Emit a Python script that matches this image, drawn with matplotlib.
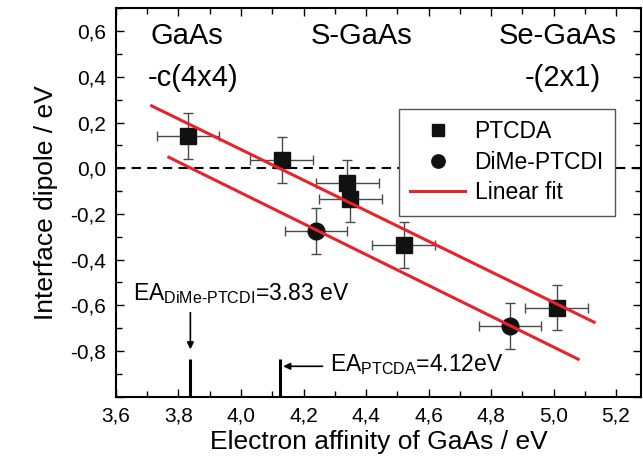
import numpy as np
import matplotlib
matplotlib.use('Agg')
import matplotlib.pyplot as plt
from matplotlib.ticker import MultipleLocator, FuncFormatter

# PTCDA points (electron affinity / interface dipole)
ptcda_x = [3.83, 4.13, 4.34, 4.35, 4.52, 5.01]
ptcda_y = [0.14, 0.035, -0.065, -0.135, -0.335, -0.61]
ptcda_xerr = [0.1, 0.1, 0.1, 0.1, 0.1, 0.1]
ptcda_yerr = [0.1, 0.1, 0.1, 0.1, 0.1, 0.1]

# DiMe-PTCDI points
dime_x = [4.24, 4.86]
dime_y = [-0.275, -0.69]
dime_xerr = [0.1, 0.1]
dime_yerr = [0.1, 0.1]

# linear fit end points
fit_ptcda_x = [3.714, 5.13]
fit_ptcda_y = [0.273, -0.674]
fit_dime_x = [3.769, 5.079]
fit_dime_y = [0.048, -0.836]

# EA markers of the molecules
ea_x = [3.838, 4.125]
ea_top = -0.835

plt.rcParams['font.family'] = ['Liberation Sans', 'DejaVu Sans']
plt.rcParams['mathtext.fontset'] = 'custom'
plt.rcParams['mathtext.rm'] = 'Liberation Sans'
plt.rcParams['mathtext.it'] = 'Liberation Sans:italic'
plt.rcParams['mathtext.bf'] = 'Liberation Sans:bold'

red = '#e8222b'
ebar_col = '#4a4a4a'

fig = plt.figure(figsize=(6.43, 4.71), dpi=100)
ax = fig.add_axes([0.1804, 0.1578, 0.8165, 0.8246])

ax.axhline(0, color='black', lw=1.5, ls=(0, (4.5, 3)), zorder=1)

ax.errorbar(ptcda_x, ptcda_y, xerr=ptcda_xerr, yerr=ptcda_yerr, fmt='none',
            ecolor=ebar_col, elinewidth=1, capsize=3.5, capthick=1, zorder=2)
ax.errorbar(dime_x, dime_y, xerr=dime_xerr, yerr=dime_yerr, fmt='none',
            ecolor=ebar_col, elinewidth=1, capsize=3.5, capthick=1, zorder=2)
ax.plot(ptcda_x, ptcda_y, 's', color='#111111', ms=11, ls='none', zorder=3, label='PTCDA')
ax.plot(dime_x, dime_y, 'o', color='#111111', ms=12, ls='none', zorder=3, label='DiMe-PTCDI')
ax.plot(fit_ptcda_x, fit_ptcda_y, color=red, lw=2.2, zorder=4, label='Linear fit')
ax.plot(fit_dime_x, fit_dime_y, color=red, lw=2.2, zorder=4)

# EA bars at the bottom
ax.vlines(ea_x, -1.0, ea_top, color='black', lw=2.2, zorder=3)
ax.annotate('', xy=(ea_x[0], -0.793), xytext=(ea_x[0], -0.632),
            arrowprops=dict(arrowstyle='-|>', color='black', lw=1.2,
                            mutation_scale=10, shrinkA=0, shrinkB=0))
ax.annotate('', xy=(4.135, -0.867), xytext=(4.261, -0.867),
            arrowprops=dict(arrowstyle='-|>', color='black', lw=1.2,
                            mutation_scale=10, shrinkA=0, shrinkB=0))
ax.text(3.654, -0.576, r'EA$_{\text{DiMe-PTCDI}}$=3.83 eV', fontsize=16.5, ha='left', va='baseline')
ax.text(4.285, -0.888, r'EA$_{\text{PTCDA}}$=4.12eV', fontsize=16.5, ha='left', va='baseline')

# surface labels
ax.text(3.827, 0.545, 'GaAs', fontsize=21, ha='center', va='baseline')
ax.text(3.846, 0.36, '-c(4x4)', fontsize=21, ha='center', va='baseline')
ax.text(4.386, 0.545, 'S-GaAs', fontsize=21, ha='center', va='baseline')
ax.text(5.014, 0.545, 'Se-GaAs', fontsize=21, ha='center', va='baseline')
ax.text(5.031, 0.36, '-(2x1)', fontsize=21, ha='center', va='baseline')

ax.set_xlim(3.6, 5.28)
ax.set_ylim(-1.0, 0.7)
ax.xaxis.set_major_locator(MultipleLocator(0.2))
ax.xaxis.set_minor_locator(MultipleLocator(0.1))
ax.yaxis.set_major_locator(MultipleLocator(0.2))
ax.yaxis.set_minor_locator(MultipleLocator(0.1))


def comma(v, p):
    v = round(v, 1) + 0.0
    if v <= -0.95:
        return ''
    return f'{v:.1f}'.replace('.', ',')


ax.xaxis.set_major_formatter(FuncFormatter(comma))
ax.yaxis.set_major_formatter(FuncFormatter(comma))
ax.tick_params(which='both', direction='in', top=True, right=True, width=1, labelsize=15)
ax.tick_params(axis='x', pad=7)
ax.tick_params(axis='y', pad=7)
ax.tick_params(which='major', length=6)
ax.tick_params(which='minor', length=4)
for s in ax.spines.values():
    s.set_linewidth(1.5)

ax.set_xlabel('Electron affinity of GaAs / eV', fontsize=19, labelpad=3)
ax.set_ylabel('Interface dipole / eV', fontsize=19, labelpad=9)

leg = ax.legend(loc='upper left', bbox_to_anchor=(0.539, 0.741), borderaxespad=0,
                fontsize=16.5, frameon=True, fancybox=False, framealpha=1,
                edgecolor='#555555', handlelength=2.4, handletextpad=0.4,
                labelspacing=0.33, borderpad=0.5, markerscale=0.8)
leg.get_frame().set_linewidth(1)

plt.savefig('out.png', dpi=100)
